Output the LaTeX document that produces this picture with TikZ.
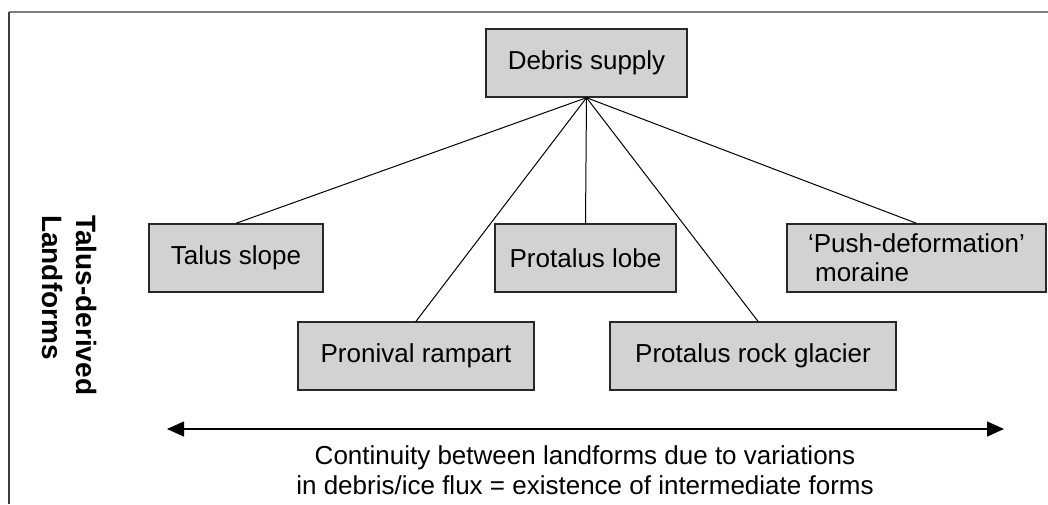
\documentclass[tikz,border=0pt]{standalone}
\usepackage{fontspec}
\setmainfont{Liberation Sans}
\usetikzlibrary{arrows.meta}
\definecolor{boxfill}{RGB}{210,210,210}
\definecolor{boxline}{RGB}{40,40,40}
\definecolor{frametop}{RGB}{128,128,128}
\definecolor{frameleft}{RGB}{60,60,60}
\begin{document}
\begin{tikzpicture}[x=1pt,y=-1pt,
  landbox/.style={draw=boxline,fill=boxfill,line width=1.4pt,minimum height=68pt,inner sep=0pt,
    font=\fontsize{26}{29}\selectfont},
  link/.style={line width=1pt,black},
  sidelabel/.style={font=\fontsize{28}{34}\selectfont\bfseries,align=left,inner sep=0pt,rotate=-90,anchor=west},
  caption/.style={font=\fontsize{26}{30}\selectfont,align=center,inner sep=0pt},
  flux/.style={line width=1.3pt,{Triangle[length=17pt,width=15pt]}-{Triangle[length=17pt,width=15pt]}}
  ]
\useasboundingbox (0,0) rectangle (1048,504);
% frame (cropped: top and left edges only)
\draw[line width=2pt,frametop] (9,12) -- (1048,12);
\draw[line width=1.2pt,frameleft] (9,12) -- (9,504);
% boxes
\node[landbox,minimum width=201pt] (debris) at (586.5,63) {Debris supply};
\node[landbox,minimum width=174pt] (talus) at (236,258) {Talus slope};
\node[landbox,minimum width=181pt] (lobe) at (585.5,258) {Protalus lobe};
\node[landbox,minimum width=259pt,align=left] (push) at (916.5,258) {‘Push-deformation’\\\hspace*{7pt}moraine};
\node[landbox,minimum width=236pt] (pronival) at (416,356) {Pronival rampart};
\node[landbox,minimum width=286pt] (rock) at (753,356) {Protalus rock glacier};
% connectors
\draw[link] (debris.south) -- (talus.north);
\draw[link] (debris.south) -- (pronival.north);
\draw[link] (debris.south) -- (lobe.north);
\draw[link] (debris.south) -- ([xshift=5pt]rock.north);
\draw[link] (debris.south) -- (push.north);
% side label
\node[sidelabel] (side) at (70,215) {Talus-derived\\Landforms};
% continuity arrow
\coordinate (fluxL) at (167,429);
\coordinate (fluxR) at (1004,429);
\draw[flux] (fluxL) -- (fluxR);
\node[caption] (cont) at (585,470) {Continuity between landforms due to variations\\in debris/ice flux = existence of intermediate forms};
\end{tikzpicture}
\end{document}
